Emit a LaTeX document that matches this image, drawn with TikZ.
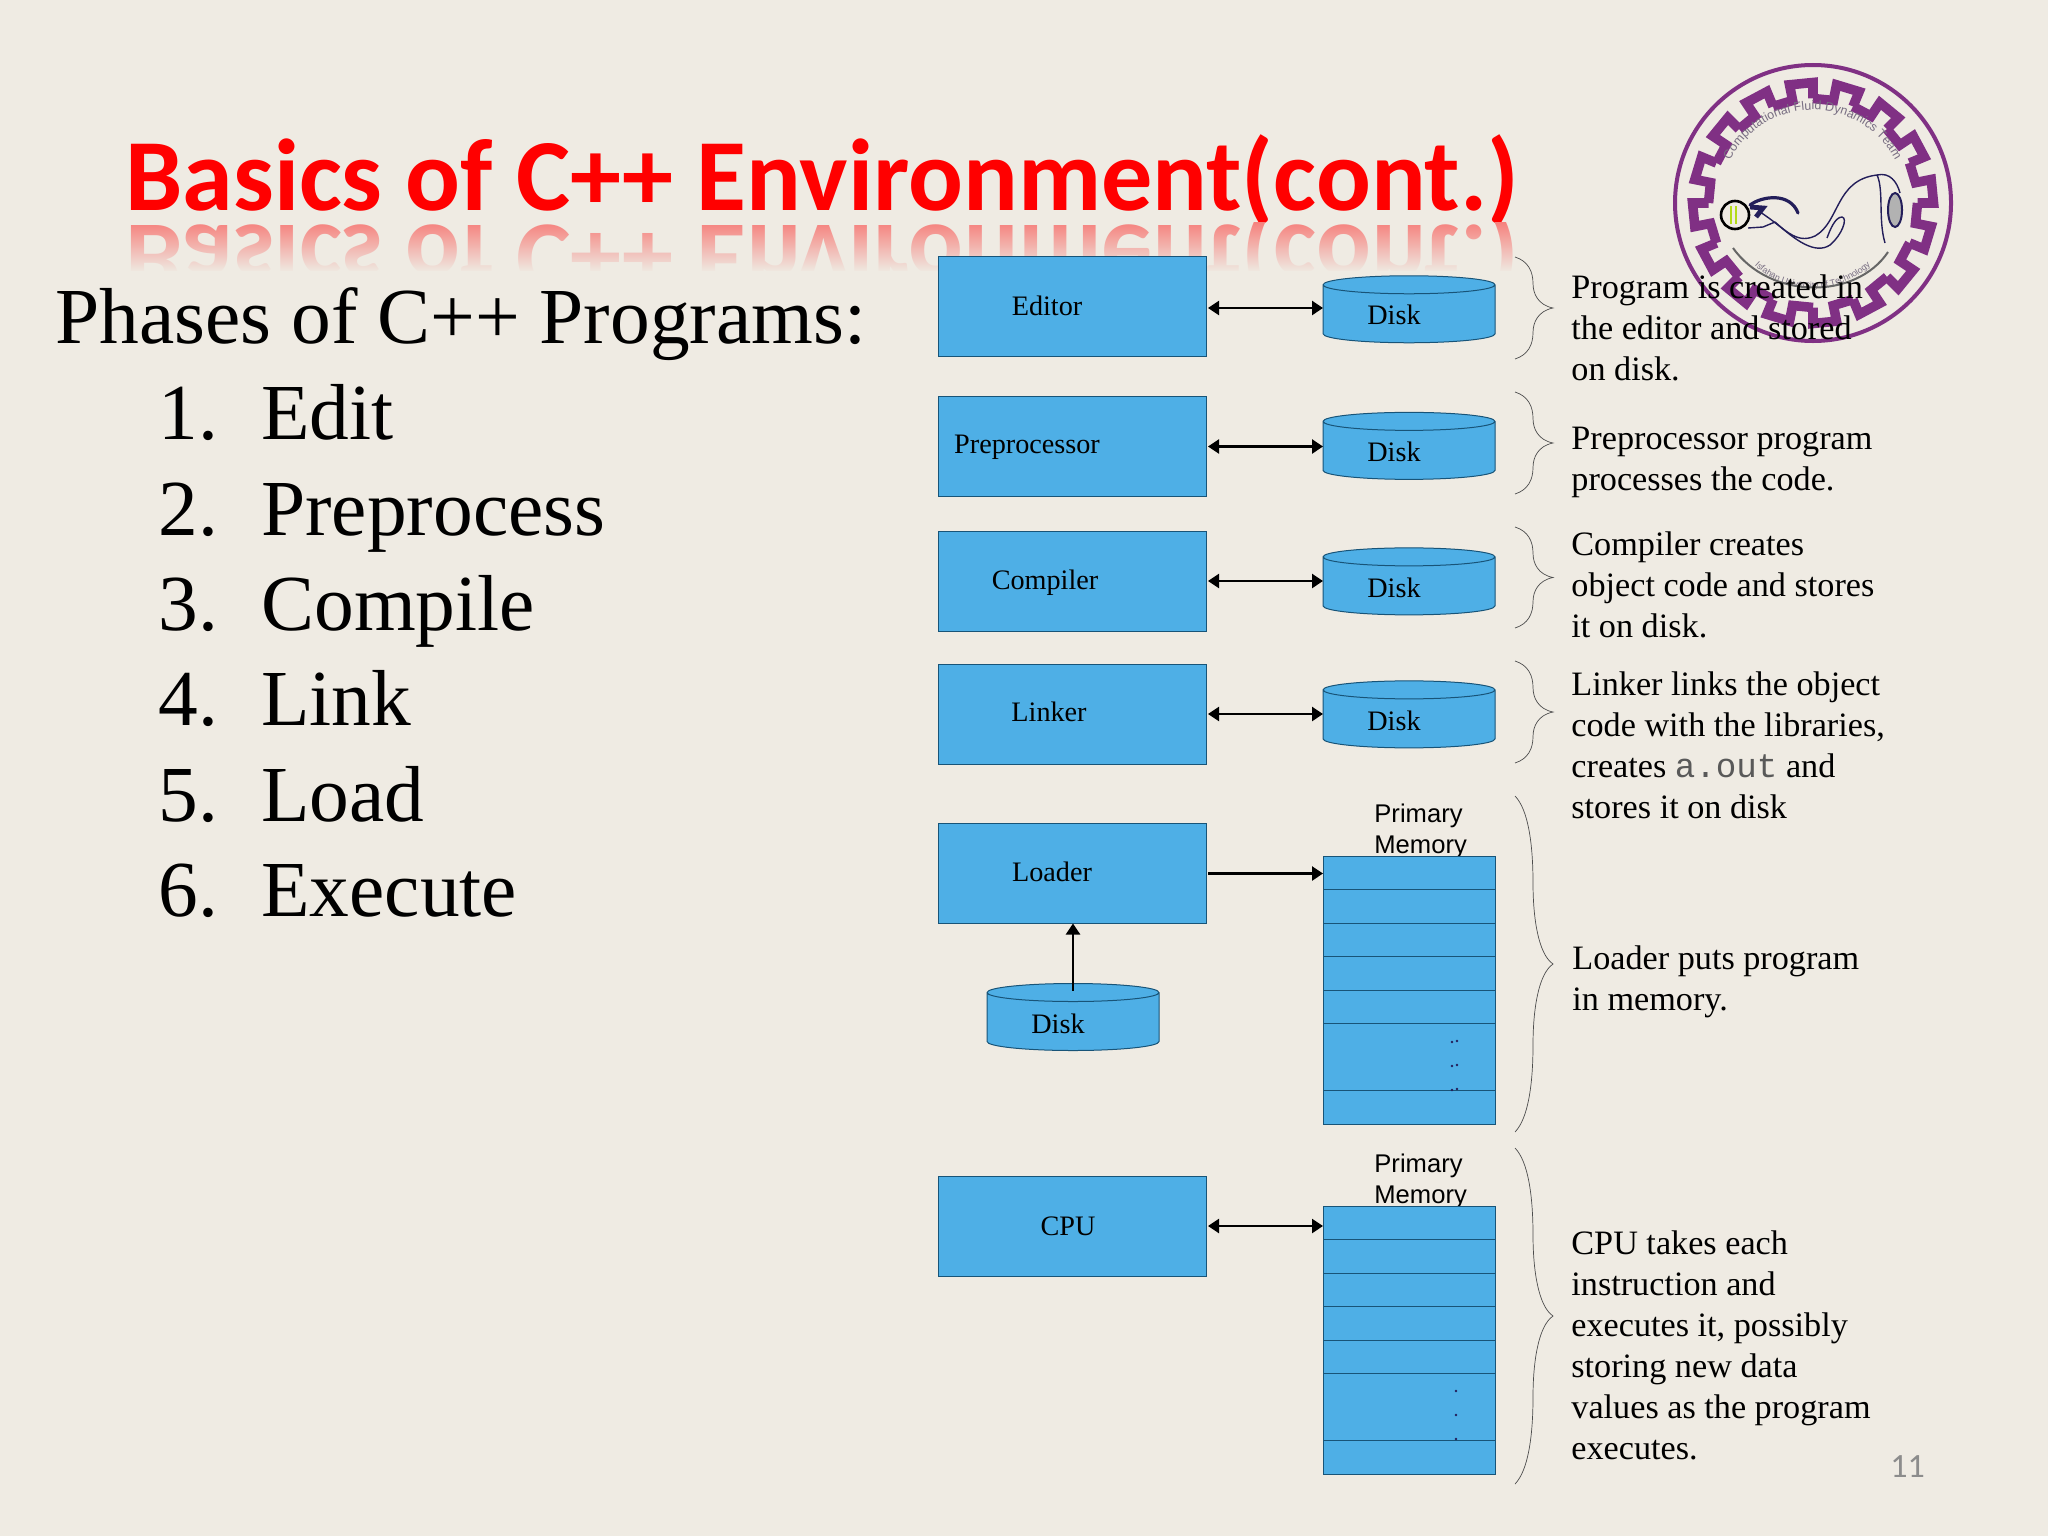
\documentclass[tikz,border=0pt]{standalone}
\usepackage{fontspec}
\setmainfont{Liberation Serif}
\setsansfont{Liberation Sans}
\setmonofont{Liberation Mono}
\newfontfamily\titlefont{Carlito}
\usepackage{tikz}
\usetikzlibrary{shapes.geometric, arrows.meta, positioning, fadings, decorations.text}
\definecolor{slidebg}{RGB}{239,235,227}
\definecolor{boxblue}{RGB}{78,175,230}
\definecolor{boxline}{RGB}{24,84,120}
\definecolor{logopurple}{RGB}{128,48,132}
\definecolor{logonavy}{RGB}{35,30,90}
\definecolor{logotext}{RGB}{120,110,130}
\begin{document}
\begin{tikzpicture}[
  x=0.5pt, y=-0.5pt,
  node distance=17.25pt and 58.5pt,
  box/.style={draw=boxline, fill=boxblue, line width=0.5pt, minimum width=134pt, minimum height=50pt, inner sep=0pt, outer sep=0pt},
  disk/.style={cylinder, shape border rotate=90, aspect=0.45, draw=boxline, fill=boxblue, line width=0.5pt, minimum width=86pt, minimum height=33.5pt, inner sep=10pt, outer sep=0pt},
  cell/.style={draw=boxline, fill=boxblue, line width=0.5pt, minimum width=86pt, minimum height=16.75pt, inner sep=0pt, outer sep=0pt},
  lbl/.style={font=\fontsize{14.1}{15}\selectfont, inner sep=0pt},
  note/.style={font=\fontsize{17.1}{20.5}\selectfont, align=left, anchor=west, inner sep=0pt},
  memlbl/.style={font=\sffamily\fontsize{12.8}{15.5}\selectfont, align=left, anchor=north west, inner sep=0pt},
  phase/.style={font=\fontsize{39.7}{44}\selectfont, anchor=base west, inner sep=0pt},
  arr/.style={-{Triangle[length=5.5pt,width=7pt]}, line width=1.2pt, shorten <=1pt},
  both/.style={{Triangle[length=5.5pt,width=7pt]}-{Triangle[length=5.5pt,width=7pt]}, line width=1.2pt, shorten <=1pt},
  brc/.style={draw=black!70, line width=0.35pt}
]
\fill[slidebg] (0,0) rectangle (2048,1536);

% Title with reflection
\node[anchor=base west, inner sep=0pt, text=red, font=\titlefont\bfseries\fontsize{51.1}{55}\selectfont] (title) at (125,210) {Basics of C++ Environment(cont.)};
\begin{scope}
  \clip (100,222) rectangle (1560,270);
  \node[anchor=base west, inner sep=0pt, text=red!45!slidebg, yscale=-1, font=\titlefont\bfseries\fontsize{51.1}{55}\selectfont] (mirror) at (125,225) {Basics of C++ Environment(cont.)};
  \fill[slidebg, path fading=north] (100,222) rectangle (1560,272);
\end{scope}

% Logo
\draw[logopurple, line width=2pt] (1813,203) circle[radius=138];
\foreach \i in {0,...,15}{
  \pgfmathsetmacro{\a}{\i*22.5}
  \draw[logopurple, line width=4.8pt, line join=miter]
    ({1813+104.5*cos(\a)},{203+104.5*sin(\a)}) -- ({1813+104.5*cos(\a+11.25)},{203+104.5*sin(\a+11.25)})
    -- ({1813+120.5*cos(\a+11.25)},{203+120.5*sin(\a+11.25)}) -- ({1813+120.5*cos(\a+22.5)},{203+120.5*sin(\a+22.5)})
    -- ({1813+104.5*cos(\a+22.5)},{203+104.5*sin(\a+22.5)});
}
\path[postaction={decorate}, decoration={text along path, text align=center, text={|\sffamily\fontsize{6.2}{8}\selectfont\color{logotext}|Computational Fluid Dynamics Team}}]
  (1722,182) arc[start angle=193, end angle=347, radius=93];
\path[postaction={decorate}, decoration={text along path, text align=center, text={|\sffamily\fontsize{4.4}{6}\selectfont\color{logotext}|Isfahan University of Technology}}]
  (1743,252) arc[start angle=145, end angle=35, radius=85];
\draw[black!60, line width=1pt] (1733,248) .. controls (1770,300) and (1856,300) .. (1888,252);
\draw[black, line width=1.3pt, fill=slidebg] (1735,215) circle[radius=14];
\draw[yellow!70!green, line width=1pt] (1731,206) -- (1731,224) (1736,206) -- (1736,224);
\draw[logonavy, line width=1.6pt, line cap=round] (1750,205) .. controls (1762,196) and (1790,192) .. (1798,213);
\draw[logonavy, line width=2.4pt] (1750,207) -- (1763,208) -- (1756,217);
\draw[logonavy, line width=0.7pt] (1760,212) .. controls (1785,228) and (1795,245) .. (1815,236) .. controls (1840,222) and (1835,180) .. (1877,175) .. controls (1890,172) and (1897,182) .. (1900,193);
\draw[logonavy, line width=0.7pt] (1775,222) .. controls (1795,240) and (1815,255) .. (1830,245) .. controls (1842,235) and (1848,218) .. (1842,217) .. controls (1835,217) and (1830,230) .. (1827,238);
\draw[logonavy, line width=0.7pt] (1748,228) -- (1763,227) -- (1775,222);
\draw[logonavy, line width=0.7pt] (1877,175) .. controls (1884,190) and (1878,220) .. (1885,243);
\draw[logonavy, line width=1pt, fill=black!30] (1895,210) ellipse[x radius=7, y radius=17];

% Left text
\node[phase] (phases) at (55,343) {Phases of C++ Programs:};
\foreach \n/\txt/\ypos in {1/Edit/439, 2/Preprocess/535, 3/Compile/630, 4/Link/725, 5/Load/821, 6/Execute/916}{
  \node[phase] (num\n) at (158,\ypos) {\n.};
  \node[phase] (item\n) at (261,\ypos) {\txt};
}

% Notes
\node[note] (note1) at (1571,328) {Program is created in\\the editor and stored\\on disk.};
\node[note] (note2) at (1571,462) {Preprocessor program\\processes the code.};
\node[note] (note3) at (1571,585) {Compiler creates\\object code and stores\\it on disk.};
\node[note] (note4) at (1571,745) {Linker links the object\\code with the libraries,\\creates \textcolor{black!65}{\texttt{a.out}} and\\stores it on disk};
\node[note] (note5) at (1572,982) {Loader puts program\\in memory.};
\node[note] (note6) at (1571,1345) {CPU takes each\\instruction and\\executes it, possibly\\storing new data\\values as the program\\executes.};
\node[anchor=base west, inner sep=0pt, text=black!45, font=\titlefont\fontsize{17}{20}\selectfont] (pageno) at (1890,1477) {11};

% Braces
\foreach \t/\b in {257/359, 392/494, 527/628, 661/763, 796/1132, 1148/1484}{
  \pgfmathsetmacro{\m}{(\t+\b)/2}
  \pgfmathsetmacro{\q}{\b-\t}
  \draw[brc] (1515,\t) .. controls (1528,{\t+.04*\q}) and (1533,{\t+.14*\q}) .. (1533,{\t+.26*\q})
    .. controls (1533,{\m-.14*\q}) and (1538,{\m-.03*\q}) .. (1553,\m)
    .. controls (1538,{\m+.03*\q}) and (1533,{\m+.14*\q}) .. (1533,{\b-.26*\q})
    .. controls (1533,{\b-.14*\q}) and (1528,{\b-.04*\q}) .. (1515,\b);
}

% Phase boxes
\node[box] (editor) at (1072,306.5) {};
\node[box, below=20pt of editor] (prep) {};
\node[box, below=of prep] (comp) {};
\node[box, below=16.5pt of comp] (link) {};
\node[box, below=29.75pt of link] (loader) {};
\node[box, below=126.25pt of loader] (cpu) {};

% Disks
\node[disk, right=of editor, yshift=-5.2pt] (disk1) {};
\node[disk, right=of prep, yshift=-3.5pt] (disk2) {};
\node[disk, right=of comp, yshift=-4pt] (disk3) {};
\node[disk, right=of link, yshift=-4pt] (disk4) {};
\node[disk, below=30pt of loader, xshift=0.5pt] (disk5) {};

% Labels
\node[lbl] (editorlbl) at (1047,306) {Editor};
\node[lbl] (preplbl) at (1027,447) {Preprocessor};
\node[lbl] (complbl) at (1045,583) {Compiler};
\node[lbl] (linklbl) at (1049,712) {Linker};
\node[lbl] (loaderlbl) at (1052,872) {Loader};
\node[lbl] (cpulbl) at (1068,1226) {CPU};
\node[lbl] (disklbl1) at (1394,315) {Disk};
\node[lbl] (disklbl2) at (1394,452) {Disk};
\node[lbl] (disklbl3) at (1394,588) {Disk};
\node[lbl] (disklbl4) at (1394,721) {Disk};
\node[lbl] (disklbl5) at (1058,1024) {Disk};

% Primary memory at loader
\node[memlbl] (lmlbl) at (1374,804) {Primary\\Memory};
\node[cell] (lm1) at (1409,873) {};
\node[cell, below=0pt of lm1] (lm2) {};
\node[cell, below=0pt of lm2] (lm3) {};
\node[cell, below=0pt of lm3] (lm4) {};
\node[cell, below=0pt of lm4] (lm5) {};
\node[cell, below=0pt of lm5, minimum height=33.5pt] (lm6) {};
\node[cell, below=0pt of lm6] (lm7) {};
\foreach \d in {1042,1066,1090}{
  \fill[logonavy] (1452,\d) circle[radius=1.4] (1457,\d-1) circle[radius=1.4];
}

% Primary memory at CPU
\node[memlbl] (cmlbl) at (1374,1154) {Primary\\Memory};
\node[cell] (cm1) at (1409,1223) {};
\node[cell, below=0pt of cm1] (cm2) {};
\node[cell, below=0pt of cm2] (cm3) {};
\node[cell, below=0pt of cm3] (cm4) {};
\node[cell, below=0pt of cm4] (cm5) {};
\node[cell, below=0pt of cm5, minimum height=33.5pt] (cm6) {};
\node[cell, below=0pt of cm6] (cm7) {};
\foreach \d in {1391,1415,1439}{
  \fill[logonavy] (1456,\d) circle[radius=1.4];
}

% Arrows
\draw[both] ([yshift=-0.75pt]editor.east) -- ([yshift=-0.75pt]editor.east -| disk1.west);
\draw[both] (prep.east) -- (prep.east -| disk2.west);
\draw[both] (comp.east) -- (comp.east -| disk3.west);
\draw[both] (link.east) -- (link.east -| disk4.west);
\draw[arr] (loader.east) -- (loader.east -| lm1.west);
\draw[both] (cpu.east) -- (cpu.east -| cm1.west);
\draw[arr, shorten <=-3.5pt] (disk5.north) -- (disk5.north |- loader.south);
\end{tikzpicture}
\end{document}
